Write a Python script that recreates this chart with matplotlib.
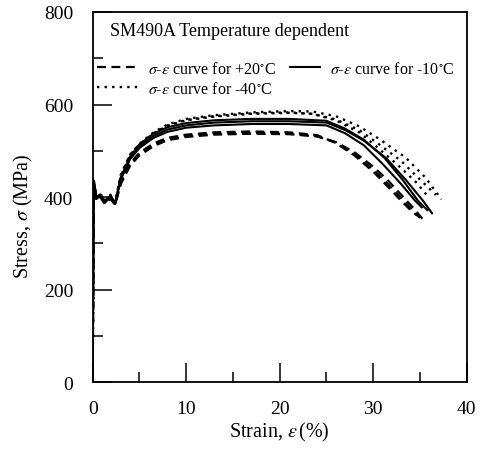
import matplotlib
matplotlib.use("Agg")
import matplotlib.pyplot as plt
from matplotlib.ticker import MultipleLocator

plt.rcParams.update({
    "font.family": "Liberation Serif",
    "mathtext.fontset": "stix",
})

# ---- data: strain (%) and stress (MPa), three specimens per temperature
strain_p20 = [
    [0, 0.1, 0.4, 0.8, 1.3, 1.9, 2.4, 3.0, 4.0, 5.0, 6.5, 8.0, 10, 13, 17, 21, 24, 26, 28, 30, 31.5, 33, 34.2, 35.0],
    [0, 0.1, 0.4, 0.8, 1.3, 1.9, 2.4, 3.0, 4.0, 5.0, 6.5, 8.0, 10, 13, 17, 21, 24, 26, 28, 30, 31.5, 33, 34.5, 35.4],
    [0, 0.1, 0.4, 0.8, 1.3, 1.9, 2.4, 3.0, 4.0, 5.0, 6.5, 8.0, 10, 13, 17, 21, 24, 26, 28, 30, 31.5, 33, 34.0, 34.7],
]
stress_p20 = [
    [0, 428, 395, 402, 388, 398, 385, 430, 470, 493, 513, 525, 532, 537, 539, 537, 532, 518, 493, 460, 430, 398, 372, 355],
    [0, 425, 392, 400, 385, 396, 383, 428, 468, 490, 510, 523, 530, 535, 537, 536, 531, 519, 497, 466, 438, 405, 372, 350],
    [0, 430, 398, 404, 390, 400, 387, 432, 473, 496, 516, 528, 535, 540, 542, 540, 534, 517, 490, 455, 424, 392, 372, 360],
]
strain_m10 = [
    [0, 0.1, 0.4, 0.8, 1.3, 1.9, 2.4, 3.0, 4.0, 5.0, 6.5, 8.0, 10, 13, 17, 21, 25, 27, 29, 31.4, 33.5, 35.3, 36.3],
    [0, 0.1, 0.4, 0.8, 1.3, 1.9, 2.4, 3.0, 4.0, 5.0, 6.5, 8.0, 10, 13, 17, 21, 25, 27, 29, 31.2, 33.2, 34.8, 35.8],
    [0, 0.1, 0.4, 0.8, 1.3, 1.9, 2.4, 3.0, 4.0, 5.0, 6.5, 8.0, 10, 13, 17, 21, 25, 27, 29, 31.0, 33.0, 34.5, 35.2],
]
stress_m10 = [
    [0, 435, 398, 405, 390, 402, 386, 440, 485, 510, 532, 546, 555, 561, 564, 564, 561, 545, 522, 484, 437, 393, 365],
    [0, 432, 396, 403, 388, 400, 385, 442, 488, 514, 537, 551, 560, 566, 569, 569, 565, 548, 524, 485, 436, 392, 372],
    [0, 436, 400, 406, 392, 403, 388, 438, 482, 506, 528, 541, 550, 555, 558, 558, 555, 538, 512, 472, 428, 392, 378],
]
strain_m40 = [
    [0, 0.1, 0.4, 0.8, 1.3, 1.9, 2.4, 3.0, 4.0, 5.0, 6.5, 8.0, 10, 13, 17, 21, 23.5, 26, 28.5, 30.7, 33.5, 35.6, 37.3],
    [0, 0.1, 0.4, 0.8, 1.3, 1.9, 2.4, 3.0, 4.0, 5.0, 6.5, 8.0, 10, 13, 17, 21, 23.5, 26, 28.5, 30.5, 33.0, 35.0, 36.7],
    [0, 0.1, 0.4, 0.8, 1.3, 1.9, 2.4, 3.0, 4.0, 5.0, 6.5, 8.0, 10, 13, 17, 21, 23.5, 26, 28.5, 30.3, 32.6, 34.6, 36.0],
]
stress_m40 = [
    [0, 438, 400, 408, 392, 405, 388, 448, 492, 515, 540, 557, 569, 577, 583, 586, 585, 575, 553, 525, 485, 442, 395],
    [0, 434, 397, 405, 390, 402, 386, 445, 490, 513, 537, 554, 566, 574, 580, 582, 580, 568, 545, 516, 478, 438, 405],
    [0, 436, 399, 406, 391, 404, 387, 446, 491, 514, 538, 555, 567, 575, 581, 583, 580, 566, 540, 510, 470, 432, 398],
]

labels = [r"$\sigma$-$\varepsilon$ curve for +20$^{\circ}$C",
          r"$\sigma$-$\varepsilon$ curve for -10$^{\circ}$C",
          r"$\sigma$-$\varepsilon$ curve for -40$^{\circ}$C"]

DASH = (0, (4, 2.5))
DOT = (0, (1, 2.2))

fig = plt.figure(figsize=(4.81, 4.52), dpi=100)
ax = fig.add_axes([0.1927, 0.152, 0.7775, 0.8193])

h20 = h10 = h40 = None
for x, y in zip(strain_p20, stress_p20):
    h20, = ax.plot(x, y, color="black", lw=1.6, ls=DASH)
for x, y in zip(strain_m10, stress_m10):
    h10, = ax.plot(x, y, color="black", lw=1.5, ls="-")
for x, y in zip(strain_m40, stress_m40):
    h40, = ax.plot(x, y, color="black", lw=1.7, ls=DOT)

ax.set_xlim(0, 40)
ax.set_ylim(0, 800)
ax.xaxis.set_major_locator(MultipleLocator(10))
ax.xaxis.set_minor_locator(MultipleLocator(5))
ax.yaxis.set_major_locator(MultipleLocator(200))
ax.yaxis.set_minor_locator(MultipleLocator(100))
ax.tick_params(which="both", direction="in", top=False, right=False, width=1.1,
               labelsize=14)
ax.tick_params(axis="x", pad=13)
ax.tick_params(axis="y", pad=14)
ax.tick_params(which="major", length=14)
ax.tick_params(which="minor", length=7.5)
for s in ax.spines.values():
    s.set_linewidth(1.3)

ax.set_xlabel(r"Strain, $\varepsilon\,$(%)", fontsize=14.5)
ax.set_ylabel(r"Stress, $\sigma$ (MPa)", fontsize=14.5)
ax.xaxis.set_label_coords(0.5, -0.103)
ax.yaxis.set_label_coords(-0.155, 0.452)

ax.text(0.046, 0.949, "SM490A Temperature dependent", transform=ax.transAxes,
        fontsize=13, va="center", ha="left")
leg_kw = dict(loc="upper left", frameon=False, fontsize=11.5, handletextpad=0.6,
              labelspacing=0.25, borderpad=0, borderaxespad=0)
leg1 = ax.legend([h20, h40], [labels[0], labels[2]], bbox_to_anchor=(0.0115, 0.868),
                 handlelength=2.6, **leg_kw)
ax.add_artist(leg1)
ax.legend([h10], [labels[1]], bbox_to_anchor=(0.5275, 0.868),
          handlelength=1.9, **leg_kw)

fig.savefig("out.png", dpi=100, facecolor="white")
